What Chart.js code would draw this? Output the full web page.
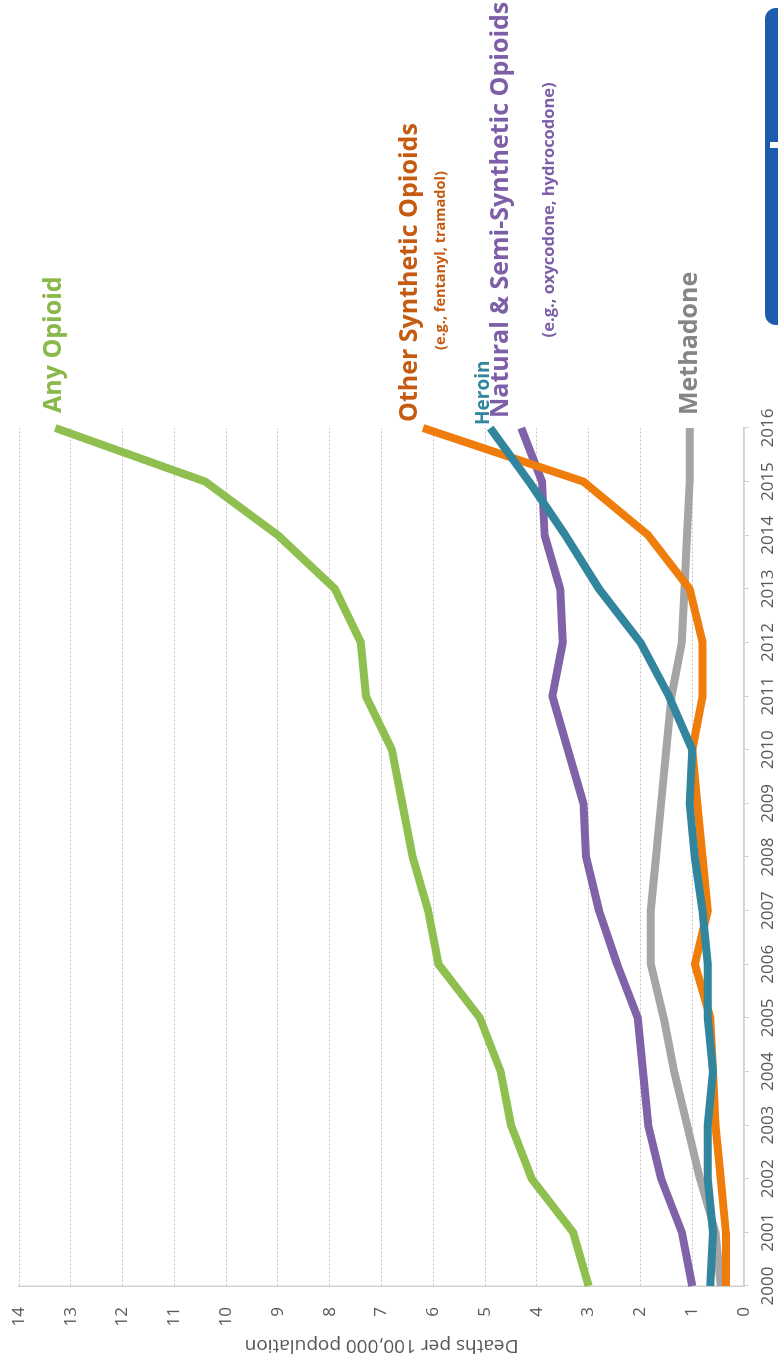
<!DOCTYPE html>
<html>
<head>
<meta charset="utf-8">
<script src="https://cdn.jsdelivr.net/npm/chart.js@4/dist/chart.umd.min.js"></script>
<style>
  html, body { margin: 0; padding: 0; background: #ffffff; overflow: hidden; }
  body { width: 778px; height: 1367px; position: relative; }
  /* the chart is laid out landscape and turned a quarter turn to stand in the portrait page */
  #wrap {
    position: absolute; left: 0; top: 0;
    width: 1367px; height: 778px;
    transform-origin: 0 0;
    transform: translateY(1367px) rotate(-90deg);
  }
  canvas { display: block; }
</style>
</head>
<body>
<div id="wrap"><canvas id="c" width="1367" height="778"></canvas></div>
<script>
// Opioid overdose death rates, deaths per 100,000 population
const years = ['2000','2001','2002','2003','2004','2005','2006','2007','2008',
               '2009','2010','2011','2012','2013','2014','2015','2016'];
const anyOpioid      = [3.0, 3.3, 4.1, 4.5, 4.7, 5.1, 5.9, 6.1, 6.4, 6.6, 6.8, 7.3, 7.4, 7.9, 9.0, 10.4, 13.3];
const otherSynthetic = [0.35, 0.35, 0.45, 0.55, 0.6, 0.65, 0.95, 0.7, 0.8, 0.9, 1.0, 0.8, 0.8, 1.05, 1.85, 3.1, 6.2];
const heroin         = [0.65, 0.6, 0.7, 0.7, 0.6, 0.7, 0.7, 0.8, 0.95, 1.05, 1.0, 1.45, 2.0, 2.8, 3.45, 4.15, 4.9];
const naturalSemi    = [1.0, 1.2, 1.6, 1.85, 1.95, 2.05, 2.45, 2.8, 3.05, 3.1, 3.4, 3.7, 3.5, 3.55, 3.85, 3.9, 4.3];
const methadone      = [0.45, 0.55, 0.85, 1.1, 1.35, 1.55, 1.8, 1.8, 1.7, 1.6, 1.5, 1.4, 1.2, 1.15, 1.1, 1.05, 1.05];
const valueTicks     = [0, 1, 2, 3, 4, 5, 6, 7, 8, 9, 10, 11, 12, 13, 14];

const seriesNames = ['Any Opioid', 'Other Synthetic Opioids', 'Heroin',
                     'Natural & Semi-Synthetic Opioids', 'Methadone'];
const seriesNotes = ['', '(e.g., fentanyl, tramadol)', '', '(e.g., oxycodone, hydrocodone)', ''];

const FONT = '"Open Sans", "Liberation Sans", sans-serif';

// line colour, label colour and end-label placement for each series
const styles = {
  'Any Opioid':                       { line: '#8fc04f', text: '#8ab84a', dx: 15, dy: -1,  size: 25 },
  'Other Synthetic Opioids':          { line: '#ef7d0c', text: '#c55a11', dx: 6,  dy: -13, size: 25,
                                        noteDy: 18, noteDx: 12, noteSize: 14.5 },
  'Heroin':                           { line: '#31859c', text: '#31859c', dx: 3,  dy: -7,  size: 19 },
  'Natural & Semi-Synthetic Opioids': { line: '#7f62a8', text: '#7d5fa8', dx: 10, dy: -20, size: 25,
                                        noteDy: 28, noteDx: 0, noteSize: 16.5 },
  'Methadone':                        { line: '#a5a5a5', text: '#858585', dx: 13, dy: 0,   size: 25 }
};

const seriesData = {
  'Any Opioid': anyOpioid,
  'Other Synthetic Opioids': otherSynthetic,
  'Heroin': heroin,
  'Natural & Semi-Synthetic Opioids': naturalSemi,
  'Methadone': methadone
};

// first dataset is drawn on top
const drawOrder = ['Heroin', 'Other Synthetic Opioids', 'Natural & Semi-Synthetic Opioids', 'Methadone', 'Any Opioid'];

const datasets = drawOrder.map(name => ({
  label: name,
  data: seriesData[name],
  borderColor: styles[name].line,
  backgroundColor: styles[name].line,
  borderWidth: 8,
  pointRadius: 0,
  pointHoverRadius: 0,
  tension: 0,
  fill: false,
  borderJoinStyle: 'round',
  borderCapStyle: 'butt'
}));

// series names written at the right-hand end of each line
const endLabels = {
  id: 'endLabels',
  afterDatasetsDraw(chart) {
    const { ctx, scales: { x, y } } = chart;
    const last = years.length - 1;
    const xEnd = x.getPixelForValue(last);
    ctx.save();
    ctx.textBaseline = 'middle';
    seriesNames.forEach((name, i) => {
      const st = styles[name];
      const yEnd = y.getPixelForValue(seriesData[name][last]);
      const lx = xEnd + st.dx;
      const ly = yEnd + st.dy;
      ctx.font = 'bold ' + st.size + 'px ' + FONT;
      ctx.fillStyle = st.text;
      ctx.textAlign = 'left';
      ctx.fillText(name, lx, ly);
      if (seriesNotes[i]) {
        const w = ctx.measureText(name).width;
        ctx.font = 'bold ' + st.noteSize + 'px ' + FONT;
        ctx.textAlign = 'center';
        ctx.fillText(seriesNotes[i], lx + w / 2 + st.noteDx, yEnd + st.noteDy);
      }
    });
    ctx.restore();
  }
};

// blue corner tab of the slide frame
const cornerTab = {
  id: 'cornerTab',
  afterDraw(chart) {
    const ctx = chart.ctx;
    ctx.save();
    ctx.fillStyle = '#1d5cad';
    ctx.beginPath();
    ctx.roundRect(1042, 765, 317, 40, 11);
    ctx.fill();
    ctx.fillStyle = '#ffffff';
    ctx.fillRect(1219, 770, 6, 12);
    ctx.restore();
  }
};

new Chart(document.getElementById('c'), {
  type: 'line',
  data: { labels: years, datasets },
  options: {
    responsive: false,
    animation: false,
    devicePixelRatio: 1,
    layout: { padding: { top: 19, right: 428, bottom: 0, left: 0 } },
    plugins: { legend: { display: false }, tooltip: { enabled: false } },
    scales: {
      x: {
        type: 'category',
        offset: false,
        grid: { display: true, drawOnChartArea: false, drawTicks: true, tickLength: 5, color: '#d0d0d0', lineWidth: 1 },
        border: { display: true, color: '#d0d0d0', width: 1.5 },
        ticks: { color: '#595959', font: { family: FONT, size: 17 }, padding: 9, maxRotation: 0, minRotation: 0, autoSkip: false },
        afterFit(scale) { scale.height = 34; }
      },
      y: {
        min: valueTicks[0],
        max: valueTicks[valueTicks.length - 1],
        afterBuildTicks(scale) { scale.ticks = valueTicks.map(v => ({ value: v })); },
        grid: { display: true, drawTicks: false, color: '#c4c4c4', lineWidth: 1 },
        border: { display: true, color: '#d0d0d0', width: 1.5, dash: [2, 2] },
        ticks: { color: '#595959', font: { family: FONT, size: 17 }, padding: 21 },
        title: {
          display: true,
          text: 'Deaths per 100,000 population',
          color: '#595959',
          font: { family: FONT, size: 19 },
          padding: { top: 10, bottom: 0 }
        },
        afterFit(scale) {
          scale.width = 81;
          // the plot runs right up to the top of the frame; no extra room for the end tick labels
          scale.paddingTop = 0;
          scale.paddingBottom = 0;
        }
      }
    }
  },
  plugins: [endLabels, cornerTab]
});
</script>
</body>
</html>
